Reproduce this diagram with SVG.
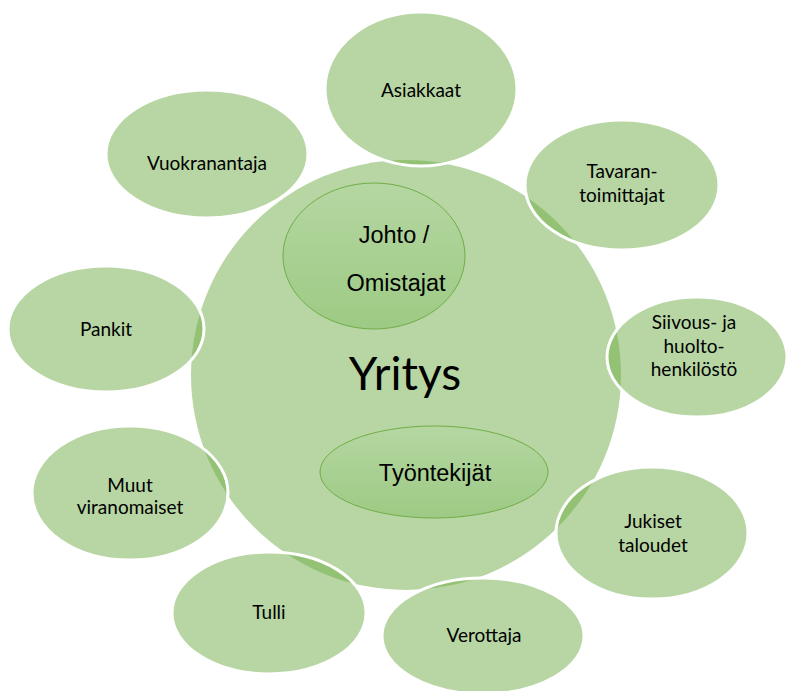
<svg xmlns="http://www.w3.org/2000/svg" width="787" height="691" viewBox="0 0 787 691">
<defs>
<linearGradient id="ig" x1="0" y1="0" x2="0" y2="1">
<stop offset="0" stop-color="#b5d7a2"/>
<stop offset="1" stop-color="#9dca84"/>
</linearGradient>
<style>
.c{fill:#70ad47;fill-opacity:0.5}
.o{fill:#70ad47;fill-opacity:0.5;stroke:#ffffff;stroke-width:3}
.i{fill:url(#ig);stroke:#70ad47;stroke-width:1}
.t{font-family:Lato,"Open Sans","Liberation Sans",sans-serif;font-size:19px;fill:#000;text-anchor:middle}
.a{font-family:"Liberation Sans",Arial,sans-serif;font-size:23.5px;fill:#000;text-anchor:middle}
.y{font-family:Lato,"Open Sans","Liberation Sans",sans-serif;font-size:46px;fill:#000;text-anchor:middle}
</style>
</defs>
<rect width="787" height="691" fill="#ffffff"/>
<g id="yritys">
<circle class="c" cx="406" cy="375" r="215"/>
</g>
<g id="asiakkaat"><ellipse class="o" cx="421" cy="89" rx="96" ry="77"/><text class="t" x="421" y="97">Asiakkaat</text></g>
<g id="vuokranantaja"><ellipse class="o" cx="207" cy="154" rx="101" ry="64"/><text class="t" x="207" y="170">Vuokranantaja</text></g>
<g id="tavarantoimittajat"><ellipse class="o" cx="622" cy="185" rx="97" ry="65"/><text class="t" x="622" y="178">Tavaran-</text><text class="t" x="622" y="202">toimittajat</text></g>
<g id="siivous"><ellipse class="o" cx="697" cy="357" rx="90" ry="60"/><text class="t" x="694" y="329">Siivous- ja</text><text class="t" x="694" y="353">huolto-</text><text class="t" x="694" y="376">henkilöstö</text></g>
<g id="jukiset"><ellipse class="o" cx="652" cy="533" rx="96" ry="66"/><text class="t" x="653" y="528">Jukiset</text><text class="t" x="653" y="552">taloudet</text></g>
<g id="verottaja"><ellipse class="o" cx="483" cy="636" rx="101" ry="58"/><text class="t" x="484" y="642">Verottaja</text></g>
<g id="tulli"><ellipse class="o" cx="269" cy="613" rx="97" ry="61"/><text class="t" x="269" y="619">Tulli</text></g>
<g id="muut"><ellipse class="o" cx="130" cy="493" rx="98" ry="67"/><text class="t" x="130" y="492">Muut</text><text class="t" x="130" y="514">viranomaiset</text></g>
<g id="pankit"><ellipse class="o" cx="106" cy="329" rx="98" ry="63"/><text class="t" x="106" y="336">Pankit</text></g>
<g id="johto"><ellipse class="i" cx="374" cy="256" rx="91" ry="73"/><text class="a" x="394" y="243">Johto /</text><text class="a" x="396" y="291">Omistajat</text></g>
<g id="tyontekijat"><ellipse class="i" cx="434" cy="472" rx="114" ry="46"/><text class="a" x="435" y="481">Työntekijät</text></g>
<text class="y" x="405" y="390">Yritys</text>
<g id="connectors"/>
</svg>
